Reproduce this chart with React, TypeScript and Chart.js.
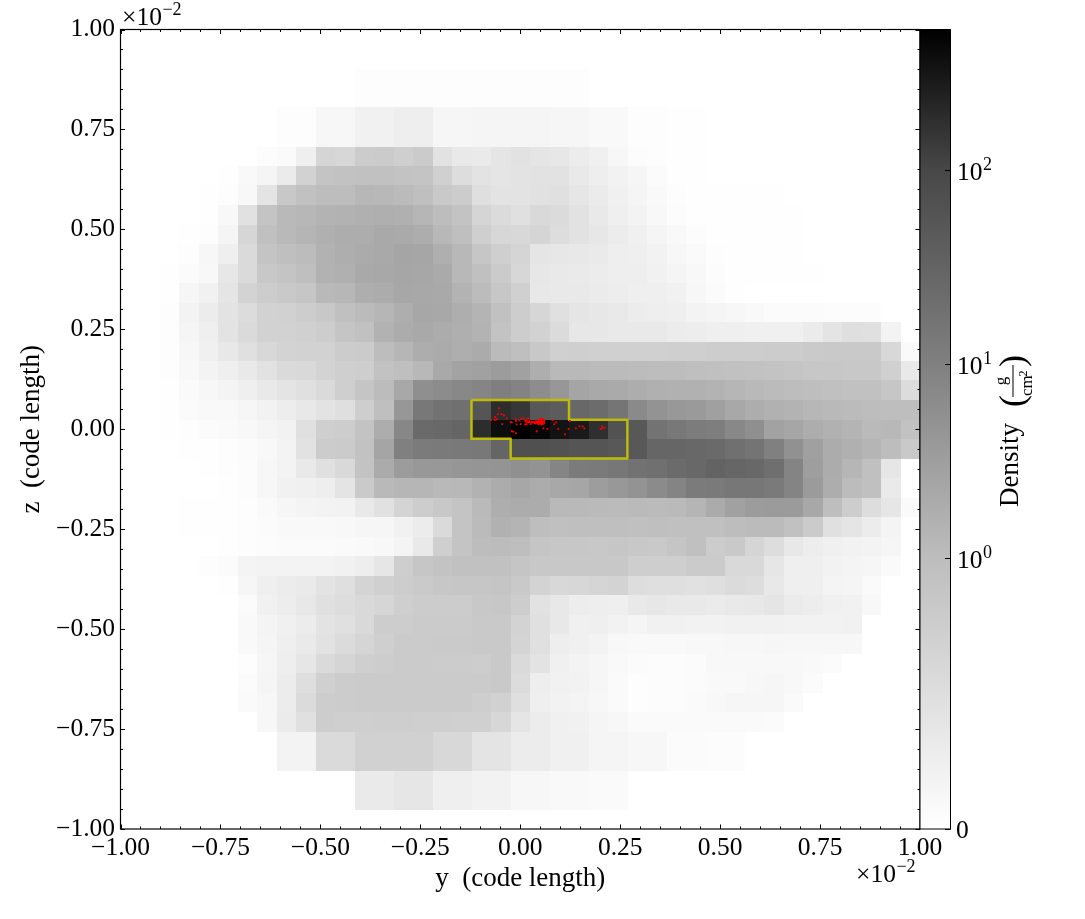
import React, { useEffect, useRef } from "react";
import { Chart, registerables, LinearScale } from "chart.js";

// Projected density shown as grey darkness (0 = white, 255 = black), rows top to bottom, columns left to right.
// Trailing zeros in a row are omitted.
const GRID_SIZE = 41;
const r02 = [0,0,0,0,0,0,0,0,0,0,0,0,2,2,2,2,2,2,2,2,2,2,2,2];
const r04 = [0,0,0,0,0,0,0,0,2,2,8,8,14,14,17,17,9,9,10,10,10,10,9,9,6,6,2,2,1,1];
const r36 = [0,0,0,0,0,0,0,0,12,12,37,37,46,46,46,46,39,39,27,27,19,19,15,15,10,10,8,8,4,4,3,3];
const r38 = [0,0,0,0,0,0,0,0,0,0,0,0,21,21,25,25,16,16,13,13,8,8,6,6,5,5];
const shades: number[][] = [
  [],
  [],
  r02,
  r02,
  r04,
  r04,
  [0,0,0,0,0,0,0,3,5,16,42,40,51,52,48,52,29,22,21,26,29,26,24,19,15,8,3,2,1,1],
  [0,0,0,0,0,1,6,10,20,45,59,61,62,62,60,59,47,34,28,26,28,29,29,22,17,13,9,4,1,1],
  [0,0,0,0,1,2,7,27,55,62,66,66,72,71,68,64,54,51,32,28,28,30,31,25,20,15,10,6,2,1,1,1,1,1],
  [0,0,0,0,1,7,30,59,70,72,76,77,79,80,79,73,66,60,42,36,31,38,36,29,22,16,12,7,3,1,1,1,1,1,1],
  [0,0,0,1,2,10,41,63,70,74,79,82,82,86,85,82,71,64,48,40,39,42,34,29,24,19,15,10,6,3,1,1,1,1,1],
  [0,0,0,2,8,16,37,59,64,67,77,81,84,86,90,89,80,71,57,48,42,26,24,23,21,17,16,13,8,5,2,1,1,1,1],
  [0,0,1,4,7,24,37,55,59,64,77,79,86,87,89,88,85,71,63,52,40,24,22,21,19,17,17,14,10,7,3,1,1,1,1,1],
  [0,0,1,9,14,26,44,50,54,57,70,72,81,83,88,87,86,76,67,56,47,23,22,22,20,18,16,16,14,8,4,1],
  [0,0,2,12,19,28,35,45,46,50,55,63,68,73,81,88,87,81,75,62,50,41,31,26,24,22,19,17,16,12,10,8,6,4,4,4,3,3,3],
  [0,0,2,10,16,28,37,45,45,47,50,58,62,77,83,86,83,80,76,60,50,45,36,24,24,22,22,22,19,18,16,16,15,15,15,20,27,32,31,12],
  [0,0,2,8,15,23,31,39,44,45,45,51,52,66,73,82,84,81,84,68,64,55,47,48,47,47,47,47,48,48,50,50,50,51,51,53,54,54,54,39,5],
  [0,0,2,7,12,16,22,29,37,38,44,48,49,61,64,71,86,92,94,99,94,81,70,70,68,68,67,66,66,64,63,62,61,60,58,56,56,55,55,47,22],
  [0,0,1,5,8,11,16,22,27,31,37,48,58,67,87,112,115,119,122,128,124,114,104,90,86,85,82,79,78,78,76,73,70,68,66,65,63,62,62,57,35],
  [0,0,1,4,6,6,9,13,18,23,28,32,49,64,104,135,141,143,170,210,200,167,163,151,147,138,117,108,103,101,95,87,82,78,76,72,70,68,66,65,65],
  [0,0,1,2,4,5,7,10,13,31,48,50,60,82,120,149,151,154,210,241,255,248,236,229,208,173,167,140,135,131,129,119,112,93,89,82,78,75,69,71,61],
  [0,0,0,1,1,2,4,7,12,29,51,52,61,90,127,132,133,134,135,154,175,175,173,170,170,167,167,153,153,151,149,143,139,127,110,95,83,79,74,66,54],
  [0,0,0,0,1,2,3,8,12,22,31,38,60,84,99,103,103,105,106,107,111,108,122,132,133,136,141,143,148,151,156,153,151,144,123,97,83,73,63,25],
  [0,0,0,0,0,1,3,8,14,15,17,27,53,70,73,73,70,71,77,83,88,83,87,89,98,103,108,116,123,132,133,136,136,133,123,100,82,67,63,21],
  [0,0,0,1,1,1,2,5,9,11,12,13,22,30,43,50,55,59,69,81,83,83,70,70,69,68,69,68,69,74,84,94,99,100,100,87,65,50,34,25,5],
  [0,0,0,1,1,1,2,4,6,6,6,7,9,9,14,19,37,59,68,78,75,65,63,64,64,64,63,64,63,63,63,66,68,68,62,52,31,26,19,11],
  [0,0,0,0,0,1,2,3,4,4,4,5,6,7,11,22,48,59,66,67,65,58,56,56,55,57,55,54,58,63,51,54,42,34,23,18,15,13,12,9],
  [0,0,0,0,2,4,11,12,12,12,12,14,17,25,49,57,60,62,62,62,58,55,55,55,55,55,49,49,49,52,52,38,38,25,16,16,13,11,9,5],
  [0,0,0,0,0,1,9,16,19,21,28,32,43,47,50,53,56,57,57,58,54,44,39,40,42,44,34,32,32,30,32,36,34,23,16,16,11,10,5],
  [0,0,0,0,0,0,4,14,18,23,31,34,38,41,48,51,51,51,55,56,50,29,23,18,17,16,22,24,22,22,20,22,23,26,20,18,15,14,7],
  [0,0,0,0,0,0,6,11,15,19,28,31,38,50,50,52,52,52,54,54,44,31,23,15,16,13,10,14,14,13,13,14,14,14,13,13,13,14],
  [0,0,0,0,0,0,6,10,16,21,29,36,42,48,52,52,53,53,54,54,43,31,17,15,12,7,6,6,6,7,7,8,8,9,8,8,8,8],
  [0,0,0,0,0,0,2,9,17,25,37,42,48,50,52,52,51,51,50,54,37,28,15,12,9,6,4,3,3,4,7,7,7,7,7,6,4],
  [0,0,0,0,0,0,4,10,19,33,47,51,52,52,52,52,52,52,52,54,35,17,14,13,9,5,2,3,3,4,6,6,8,9,7,4],
  [0,0,0,0,0,0,5,8,19,36,50,51,52,52,52,52,52,52,49,46,32,16,13,11,8,5,2,3,3,5,7,9,9,9,5],
  [0,0,0,0,0,0,0,8,20,31,50,48,48,49,49,48,48,47,47,40,26,19,15,14,10,8,5,5,5,5,5,5,5,4],
  r36,
  r36,
  r38,
  r38,
  [],
];

// Clump contour (y, z), in units of 1e-2 code length.
const contourY = [-0.122, 0.122, 0.122, 0.268, 0.268, -0.024, -0.024, -0.122, -0.122];
const contourZ = [0.073, 0.073, 0.024, 0.024, -0.073, -0.073, -0.024, -0.024, 0.073];

// Sink particles (y, z), in units of 1e-2 code length.
const particleY = [-0.053,-0.047,-0.056,-0.041,-0.034,-0.063,-0.073,-0.064,-0.059,-0.045,-0.024,-0.021,-0.011,-0.011,-0.002,0.002,0.009,0.020,0.001,-0.009,0.012,0.016,-0.021,-0.017,-0.011,0.041,0.058,0.068,0.056,0.081,0.090,0.085,0.095,0.112,0.121,0.124,0.139,0.148,0.156,0.160,0.204,0.206,0.201,0.211,0.012,0.019,0.024,0.031,0.037,0.043,0.050,0.056,0.058,0.054,0.050,0.045,0.040,0.035,0.050,0.045,0.060,0.053,0.046,0.040,0.029,0.020,0.015,0.026,0.016,0.023,0.028,0.035,0.041,0.048,0.055,0.060,0.056,0.051,0.043,0.038,0.053,0.046,0.058,0.053];
const particleZ = [0.052,0.038,0.038,0.035,0.027,0.030,0.023,0.023,0.025,0.013,0.018,0.017,0.025,0.021,0.022,0.027,0.027,0.027,0.013,0.012,0.012,0.012,-0.005,-0.006,-0.010,-0.005,0.002,0.001,0.026,0.023,0.017,0.013,0.001,-0.013,0.001,0.021,0.002,0.007,0.007,0.002,0.007,0.002,0.001,0.004,0.021,0.019,0.018,0.017,0.016,0.015,0.014,0.013,0.017,0.017,0.018,0.017,0.020,0.017,0.025,0.023,0.021,0.021,0.020,0.017,0.019,0.017,0.017,0.013,0.022,0.020,0.017,0.019,0.017,0.016,0.015,0.015,0.019,0.022,0.018,0.015,0.012,0.012,0.024,0.026];

// Colour bar
const cbMax = 523;
const cbTicks = [0, 1, 10, 100];
const cbStopValues = [0, 1, 10, 100, 523];
const cbStopGreys = [255, 189, 128, 71, 0];

const LINEAR_FRACTION = 271 / 800;
const DECADE_FRACTION = 194.4 / 800;
const cbFraction = (v: number) =>
  v <= 1 ? v * LINEAR_FRACTION : LINEAR_FRACTION + DECADE_FRACTION * Math.log10(v);

class SymlogScale extends (LinearScale as any) {
  static id = "symlog";
  static defaults = {};
  buildTicks() {
    return cbTicks.map((value) => ({ value }));
  }
  getPixelForValue(v: number) {
    return (this as any).getPixelForDecimal(cbFraction(v));
  }
}

const FONT = "'Liberation Serif', serif";
const TICK_SIZE = 25.5;
const minusLabel = (v: number) => (v < -0.001 ? "\u2212" : "") + Math.abs(v).toFixed(2);
const isMajor = (v: number) => Math.round(v * 100) % 25 === 0;

function drawSuper(ctx: CanvasRenderingContext2D, x: number, y: number, base: string, sup: string) {
  ctx.textAlign = "left";
  ctx.textBaseline = "alphabetic";
  ctx.font = `${TICK_SIZE}px ${FONT}`;
  ctx.fillText(base, x, y);
  const w = ctx.measureText(base).width;
  ctx.font = `18px ${FONT}`;
  ctx.fillText(sup, x + w + 0.5, y - 10);
}

const cellPlugin = {
  id: "cells",
  beforeDatasetsDraw(chart: any) {
    const { ctx, scales } = chart;
    const edge = (i: number) => -1 + (2 * i) / GRID_SIZE;
    shades.forEach((row, r) => {
      const top = Math.round(scales.y.getPixelForValue(1 - (2 * r) / GRID_SIZE));
      const bottom = Math.round(scales.y.getPixelForValue(1 - (2 * (r + 1)) / GRID_SIZE));
      row.forEach((d, k) => {
        if (!d) return;
        const left = Math.round(scales.x.getPixelForValue(edge(k)));
        const right = Math.round(scales.x.getPixelForValue(edge(k + 1)));
        const g = 255 - d;
        ctx.fillStyle = `rgb(${g},${g},${g})`;
        ctx.fillRect(left, top, right - left, bottom - top);
      });
    });
  },
};

const framePlugin = {
  id: "frame",
  afterDatasetsDraw(chart: any) {
    const { ctx, scales, chartArea: a } = chart;
    ctx.save();
    ctx.strokeStyle = "#000";
    ctx.fillStyle = "#000";
    ctx.lineWidth = 1;
    // inward ticks on all four sides
    ctx.beginPath();
    scales.x.ticks.forEach((t: any) => {
      const px = Math.round(scales.x.getPixelForValue(t.value)) + 0.5;
      const len = isMajor(t.value) ? 4.5 : 2.5;
      ctx.moveTo(px, a.top); ctx.lineTo(px, a.top + len);
      ctx.moveTo(px, a.bottom); ctx.lineTo(px, a.bottom - len);
    });
    scales.y.ticks.forEach((t: any) => {
      const py = Math.round(scales.y.getPixelForValue(t.value)) + 0.5;
      const len = isMajor(t.value) ? 4.5 : 2.5;
      ctx.moveTo(a.left, py); ctx.lineTo(a.left + len, py);
      ctx.moveTo(a.right, py); ctx.lineTo(a.right - len, py);
    });
    ctx.stroke();
    ctx.lineWidth = 1.2;
    ctx.strokeRect(a.left, a.top, a.right - a.left, a.bottom - a.top);

    // colour bar
    const cb = scales.cb;
    const bx0 = a.right, bx1 = a.right + 30.5;
    const grad = ctx.createLinearGradient(0, a.bottom, 0, a.top);
    cbStopValues.forEach((v, i) => {
      const g = cbStopGreys[i];
      grad.addColorStop(Math.min(1, cbFraction(v)), `rgb(${g},${g},${g})`);
    });
    ctx.fillStyle = grad;
    ctx.fillRect(bx0, a.top, bx1 - bx0, a.bottom - a.top);
    ctx.lineWidth = 1;
    ctx.strokeRect(bx0, a.top, bx1 - bx0, a.bottom - a.top);
    ctx.beginPath();
    cb.ticks.forEach((t: any) => {
      const py = Math.round(cb.getPixelForValue(t.value)) + 0.5;
      ctx.moveTo(bx1, py); ctx.lineTo(bx1 - 5.5, py);
    });
    ctx.stroke();

    // colour bar labels
    ctx.fillStyle = "#000";
    cb.ticks.forEach((t: any) => {
      const py = cb.getPixelForValue(t.value);
      if (t.value === 0) {
        ctx.font = `${TICK_SIZE}px ${FONT}`;
        ctx.textAlign = "left";
        ctx.textBaseline = "alphabetic";
        ctx.fillText("0", 956, py + 8.5);
      } else {
        drawSuper(ctx, 957, py + 10, "10", String(Math.round(Math.log10(t.value))));
      }
    });

    // offset texts
    drawSuper(ctx, 122, 25, "\u00d710", "\u22122");
    drawSuper(ctx, 856, 882, "\u00d710", "\u22122");

    // rotated colour bar title
    const rot = (x: number, y: number, text: string, font: string, align: CanvasTextAlign = "left") => {
      ctx.save();
      ctx.translate(x, y);
      ctx.rotate(-Math.PI / 2);
      ctx.font = font;
      ctx.textAlign = align;
      ctx.textBaseline = "alphabetic";
      ctx.fillText(text, 0, 0);
      ctx.restore();
    };
    rot(1018, 507, "Density", `27px ${FONT}`);
    rot(1024, 407, "(", `36px ${FONT}`);
    rot(1024, 367, ")", `36px ${FONT}`);
    rot(1006, 381, "g", `17px ${FONT}`, "center");
    ctx.fillRect(1012.5, 365, 1, 32);
    rot(1032, 396, "cm", `17px ${FONT}`);
    rot(1027, 376.5, "2", `12px ${FONT}`);
    ctx.restore();
  },
};

Chart.register(...registerables, SymlogScale as any);

export default function App() {
  const ref = useRef<HTMLCanvasElement>(null);
  useEffect(() => {
    const chart = new Chart(ref.current!, {
      type: "scatter",
      data: {
        datasets: [
          {
            label: "contour",
            data: contourY.map((y, i) => ({ x: y, y: contourZ[i] })),
            showLine: true,
            borderColor: "#bcbc08",
            borderWidth: 2.5,
            borderJoinStyle: "round",
            pointRadius: 0,
            order: 2,
          },
          {
            label: "particles",
            data: particleY.map((y, i) => ({ x: y, y: particleZ[i] })),
            pointStyle: "rect",
            pointRadius: 1.25,
            pointBorderWidth: 0,
            backgroundColor: "#ff0000",
            order: 1,
          },
        ],
      } as any,
      options: {
        animation: false,
        responsive: false,
        devicePixelRatio: 1,
        layout: { padding: { top: 29.5, right: 0, left: 0, bottom: 0 } },
        plugins: { legend: { display: false }, tooltip: { enabled: false } },
        scales: {
          x: {
            type: "linear",
            min: -1,
            max: 1,
            grid: { display: false, drawTicks: false },
            border: { display: false },
            afterFit: (s: any) => { s.height = 90; },
            ticks: {
              stepSize: 0.05,
              autoSkip: false,
              maxRotation: 0,
              minRotation: 0,
              padding: 4,
              color: "#000",
              font: { family: FONT, size: TICK_SIZE },
              callback: (v: any) => (isMajor(v) ? minusLabel(v) : ""),
            },
            title: {
              display: true,
              text: "y  (code length)",
              color: "#000",
              font: { family: FONT, size: 27 },
              padding: { top: 0, bottom: 24 },
            },
          },
          y: {
            type: "linear",
            min: -1,
            max: 1,
            grid: { display: false, drawTicks: false },
            border: { display: false },
            afterFit: (s: any) => { s.width = 120.5; },
            ticks: {
              stepSize: 0.05,
              autoSkip: false,
              padding: 5.5,
              color: "#000",
              font: { family: FONT, size: TICK_SIZE },
              callback: (v: any) => (isMajor(v) ? minusLabel(v) : ""),
            },
            title: {
              display: true,
              text: "z  (code length)",
              color: "#000",
              font: { family: FONT, size: 27 },
              padding: { top: 16, bottom: 0 },
            },
          },
          cb: {
            type: "symlog",
            position: "right",
            axis: "y",
            min: 0,
            max: cbMax,
            grid: { display: false, drawTicks: false },
            border: { display: false },
            ticks: { display: false },
            afterFit: (s: any) => { s.width = 165; },
          },
        },
      } as any,
      plugins: [cellPlugin, framePlugin],
    } as any);
    return () => chart.destroy();
  }, []);
  return (
    <div style={{ position: "fixed", left: 0, top: 0, width: 1085, height: 919, background: "#fff", overflow: "hidden" }}>
      <canvas ref={ref} width={1085} height={919} style={{ display: "block" }} />
    </div>
  );
}
